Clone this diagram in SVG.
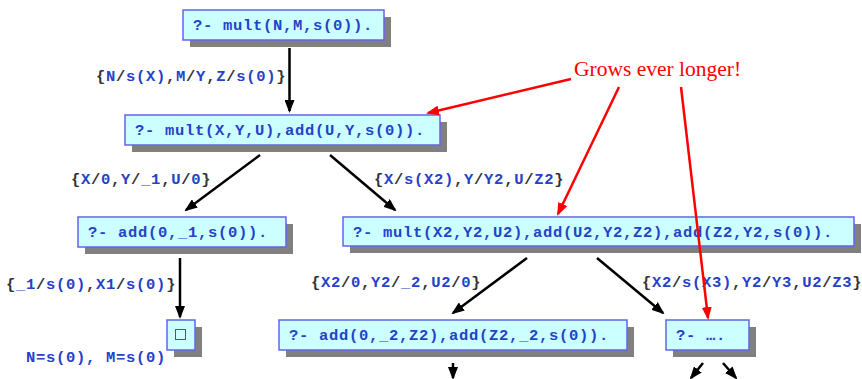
<svg xmlns="http://www.w3.org/2000/svg" width="862" height="379" viewBox="0 0 862 379">
  <style>
    .shadow { fill: #808080; }
    .box { fill: #ccffff; stroke: #6464e6; stroke-width: 1.5; }
    .code { font-family: "Liberation Mono", "Courier New", monospace; font-weight: bold; font-size: 15.5px; letter-spacing: 0.7px; fill: #2442c8; }
    .p { fill: #333333; }
    .edge { stroke: #000000; stroke-width: 2.5; fill: none; marker-end: url(#head); }
    .note { stroke: #ff0000; stroke-width: 2.5; fill: none; marker-end: url(#headRed); }
    .remark { font-family: "Liberation Serif", "Times New Roman", serif; font-size: 21.5px; fill: #ff0000; }
    .empty { fill: none; stroke: #555555; stroke-width: 1; }
  </style>
  <defs>
    <marker id="head" markerUnits="userSpaceOnUse" markerWidth="13" markerHeight="10" refX="11" refY="5" orient="auto">
      <path d="M0,0 L13,5 L0,10 z" fill="#000000"/>
    </marker>
    <marker id="headRed" markerUnits="userSpaceOnUse" markerWidth="13" markerHeight="10" refX="11" refY="5" orient="auto">
      <path d="M0,0 L13,5 L0,10 z" fill="#ff0000"/>
    </marker>
  </defs>

  <rect width="862" height="379" fill="#ffffff"/>

  <!-- resolution tree nodes -->
  <g id="goal-root">
    <rect class="shadow" x="190" y="17" width="201" height="30"/>
    <rect class="box" x="183" y="10" width="201" height="30"/>
    <text class="code" x="193" y="30">?- mult(N,M,s(0)).</text>
  </g>

  <g id="goal-mult-add">
    <rect class="shadow" x="132" y="122" width="315" height="30"/>
    <rect class="box" x="125" y="115" width="315" height="30"/>
    <text class="code" x="135" y="135">?- mult(X,Y,U),add(U,Y,s(0)).</text>
  </g>

  <g id="goal-add-left">
    <rect class="shadow" x="85" y="224" width="208" height="30"/>
    <rect class="box" x="78" y="217" width="208" height="30"/>
    <text class="code" x="88" y="237">?- add(0,_1,s(0)).</text>
  </g>

  <g id="goal-mult-add-add">
    <rect class="shadow" x="350" y="224" width="511" height="29"/>
    <rect class="box" x="343" y="217" width="511" height="29"/>
    <text class="code" x="353" y="237">?- mult(X2,Y2,U2),add(U2,Y2,Z2),add(Z2,Y2,s(0)).</text>
  </g>

  <!-- empty clause: successful refutation -->
  <g id="goal-success">
    <rect class="shadow" x="174" y="327" width="28" height="30"/>
    <rect class="box" x="167" y="320" width="28" height="30"/>
    <rect class="empty" x="175.5" y="329.5" width="10" height="10"/>
  </g>

  <g id="goal-add-add">
    <rect class="shadow" x="286" y="327" width="348" height="30"/>
    <rect class="box" x="279" y="320" width="348" height="30"/>
    <text class="code" x="289" y="340">?- add(0,_2,Z2),add(Z2,_2,s(0)).</text>
  </g>

  <g id="goal-more">
    <rect class="shadow" x="673" y="327" width="83" height="30"/>
    <rect class="box" x="666" y="320" width="83" height="30"/>
    <text class="code" x="676" y="340">?- ….</text>
  </g>

  <!-- derivation steps -->
  <g id="connectors">
    <line class="edge" x1="289.5" y1="48" x2="289.5" y2="111"/>
    <line class="edge" x1="260" y1="155" x2="186" y2="210"/>
    <line class="edge" x1="330" y1="155" x2="395" y2="210"/>
    <line class="edge" x1="180" y1="258" x2="180" y2="317"/>
    <line class="edge" x1="527" y1="258" x2="453" y2="313"/>
    <line class="edge" x1="597" y1="258" x2="663" y2="313"/>
    <line class="edge" x1="453" y1="363" x2="453" y2="378"/>
    <line class="edge" x1="703" y1="363" x2="691" y2="378"/>
    <line class="edge" x1="723" y1="363" x2="736" y2="378"/>
  </g>

  <!-- substitutions on each step -->
  <g id="substitutions" class="code">
    <text x="96" y="81"><tspan class="p">{</tspan>N<tspan class="p">/</tspan>s(X)<tspan class="p">,</tspan>M<tspan class="p">/</tspan>Y<tspan class="p">,</tspan>Z<tspan class="p">/</tspan>s(0)<tspan class="p">}</tspan></text>
    <text x="71" y="184"><tspan class="p">{</tspan>X<tspan class="p">/</tspan>0<tspan class="p">,</tspan>Y<tspan class="p">/</tspan>_1<tspan class="p">,</tspan>U<tspan class="p">/</tspan>0<tspan class="p">}</tspan></text>
    <text x="374" y="184"><tspan class="p">{</tspan>X<tspan class="p">/</tspan>s(X2)<tspan class="p">,</tspan>Y<tspan class="p">/</tspan>Y2<tspan class="p">,</tspan>U<tspan class="p">/</tspan>Z2<tspan class="p">}</tspan></text>
    <text x="6" y="289"><tspan class="p">{</tspan>_1<tspan class="p">/</tspan>s(0)<tspan class="p">,</tspan>X1<tspan class="p">/</tspan>s(0)<tspan class="p">}</tspan></text>
    <text x="311" y="287"><tspan class="p">{</tspan>X2<tspan class="p">/</tspan>0<tspan class="p">,</tspan>Y2<tspan class="p">/</tspan>_2<tspan class="p">,</tspan>U2<tspan class="p">/</tspan>0<tspan class="p">}</tspan></text>
    <text x="642" y="287"><tspan class="p">{</tspan>X2<tspan class="p">/</tspan>s(X3)<tspan class="p">,</tspan>Y2<tspan class="p">/</tspan>Y3<tspan class="p">,</tspan>U2<tspan class="p">/</tspan>Z3<tspan class="p">}</tspan></text>
    <text x="26" y="362">N=s(0), M=s(0)</text>
  </g>

  <!-- annotation -->
  <g id="annotation">
    <text class="remark" x="574" y="76">Grows ever longer!</text>
    <line class="note" x1="571" y1="79" x2="428" y2="113"/>
    <line class="note" x1="619" y1="87" x2="558" y2="214"/>
    <line class="note" x1="681" y1="87" x2="708" y2="318"/>
  </g>
</svg>
